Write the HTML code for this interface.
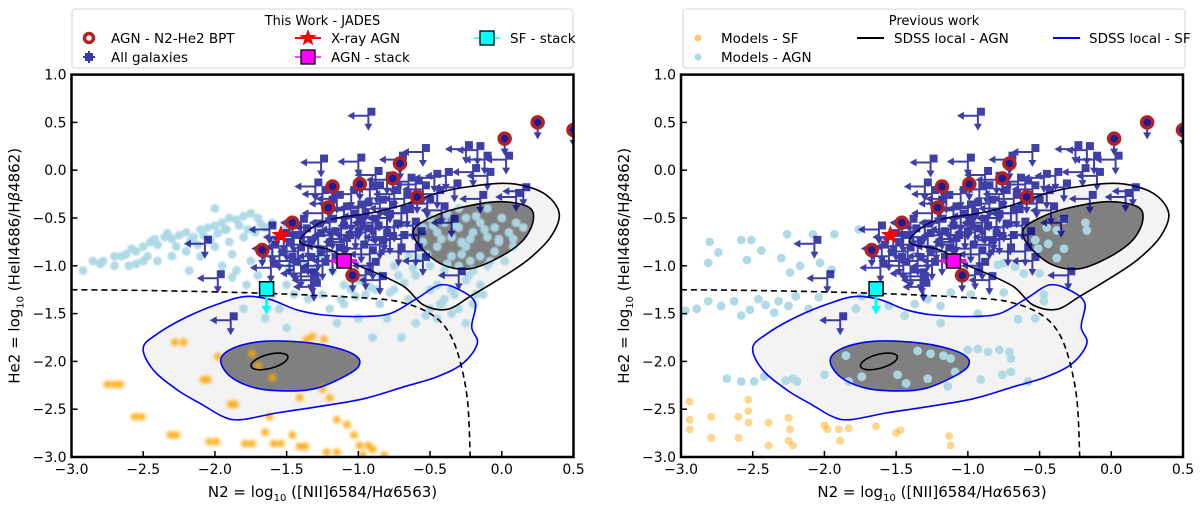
<!DOCTYPE html>
<html><head><meta charset="utf-8">
<style>
html,body{margin:0;padding:0;background:#fff;}
svg{display:block;font-family:"DejaVu Sans","Liberation Sans",sans-serif;}
</style></head>
<body>
<svg id="chart" width="1200" height="506" viewBox="0 0 1200 506" xmlns="http://www.w3.org/2000/svg">
<defs>
<filter id="blur1" x="-50%" y="-50%" width="200%" height="200%"><feGaussianBlur stdDeviation="1.6"/></filter>
<filter id="blur2" x="-50%" y="-50%" width="200%" height="200%"><feGaussianBlur stdDeviation="0.7"/></filter>
</defs>
</svg>
<script>
// ---------- data (N2, He2) ----------
const xTicks = [-3.0,-2.5,-2.0,-1.5,-1.0,-0.5,0.0,0.5];
const yTicks = [1.0,0.5,0.0,-0.5,-1.0,-1.5,-2.0,-2.5,-3.0];

const jadesLimX = [-0.93,-0.55,-0.25,-0.17,-0.12,0.03,-1.26,-1.0,-0.71,-0.39,-0.10,0.10,-0.47,-1.30,-0.88,-0.80,-0.65,-0.60,-0.55,-0.92,-1.05,-1.15,-0.75,-0.68,-0.85,-0.95,-1.10,-1.25,-0.42,-0.15,-0.35,-0.70,-0.80,-0.90,-1.00,-1.05,-1.20,-1.30,-1.38,-1.45,-1.50,-1.42,-1.35,-1.28,-1.18,-1.12,-1.08,-1.02,-0.95,-0.88,-0.82,-0.75,-0.70,-0.62,-0.58,-1.22,-1.15,-1.28,-1.35,-1.45,-1.55,-1.60,-1.40,-1.32,-1.25,-1.18,-0.98,-0.92,-0.85,-0.90,-0.95,-0.72,-0.60,-0.55,-2.07,-1.98,-1.89,-1.61,-1.33,-1.31,-0.30,0.15,-0.85,-0.78,-1.62,-1.48,-1.40,-1.20,-1.00,-0.78,-0.66,-0.52,-0.45,-1.10,-0.97,-1.52,-1.25,-0.87,-0.33,-0.20];
const jadesLimY = [0.57,0.19,0.22,0.21,0.11,0.11,0.08,0.09,0.11,-0.06,-0.06,-0.28,-0.08,-0.17,-0.05,-0.10,-0.12,-0.15,-0.20,-0.20,-0.25,-0.30,-0.25,-0.30,-0.35,-0.38,-0.42,-0.45,-0.42,-0.30,-0.55,-0.45,-0.50,-0.55,-0.58,-0.50,-0.55,-0.60,-0.65,-0.72,-0.80,-0.85,-0.78,-0.70,-0.68,-0.62,-0.72,-0.68,-0.65,-0.62,-0.70,-0.60,-0.72,-0.58,-0.68,-0.80,-0.85,-0.90,-0.95,-1.00,-0.90,-0.82,-1.08,-1.15,-1.00,-0.95,-0.82,-0.88,-0.78,-1.00,-1.10,-0.85,-0.85,-0.95,-0.77,-1.13,-1.57,-1.02,-1.11,-1.22,-1.10,-0.22,-1.15,-0.73,-0.62,-0.95,-0.55,-0.35,-0.40,-0.40,-0.45,-0.35,-0.25,-0.75,-0.48,-0.70,-0.25,-0.20,-0.18,-0.02];

const agnX = [-0.71,-0.76,-0.99,-1.18,-0.59,-1.21,-1.46,-1.67,-1.04,0.02,0.25,0.50];
const agnY = [0.07,-0.085,-0.145,-0.17,-0.28,-0.39,-0.55,-0.835,-1.10,0.33,0.50,0.42];

const xrayAGN = [-1.54,-0.68];
const agnStack = [-1.10,-0.95];
const sfStack = [-1.64,-1.24];

// SDSS local contours
const agnOuterX = [-1.40,-1.29,-1.15,-0.92,-0.68,-0.45,-0.22,0.06,0.29,0.40,0.34,0.18,-0.03,-0.22,-0.38,-0.545,-0.68,-0.87,-1.01,-1.195,-1.38];
const agnOuterY = [-0.71,-0.57,-0.50,-0.45,-0.36,-0.24,-0.17,-0.14,-0.24,-0.45,-0.70,-0.94,-1.15,-1.32,-1.455,-1.41,-1.22,-1.08,-0.99,-0.835,-0.78];
const agnInnerX = [-0.615,-0.50,-0.31,-0.03,0.18,0.22,0.15,-0.01,-0.22,-0.41,-0.57];
const agnInnerY = [-0.625,-0.50,-0.40,-0.33,-0.38,-0.52,-0.73,-0.905,-1.03,-0.99,-0.80];
const sfOuterX = [-2.50,-2.40,-2.19,-1.96,-1.78,-1.61,-1.43,-1.24,-0.99,-0.78,-0.59,-0.43,-0.29,-0.185,-0.21,-0.17,-0.27,-0.45,-0.68,-0.96,-1.265,-1.57,-1.82,-1.94,-2.08,-2.26,-2.43];
const sfOuterY = [-1.86,-1.71,-1.53,-1.39,-1.32,-1.355,-1.46,-1.515,-1.53,-1.50,-1.34,-1.20,-1.255,-1.39,-1.64,-1.81,-2.02,-2.16,-2.265,-2.39,-2.47,-2.54,-2.61,-2.58,-2.46,-2.30,-2.09];
const sfInnerX = [-1.96,-1.87,-1.66,-1.38,-1.15,-1.01,-1.00,-1.10,-1.29,-1.47,-1.71,-1.89];
const sfInnerY = [-1.985,-1.86,-1.79,-1.80,-1.86,-1.95,-2.055,-2.16,-2.28,-2.31,-2.28,-2.16];
const agnCoreCenter = [-1.62,-2.00];

// Kewley-like demarcation
const demX = [-3.0,-2.4,-1.61,-0.92,-0.68,-0.50,-0.38,-0.30,-0.24,-0.22];
const demY = [-1.25,-1.26,-1.29,-1.34,-1.39,-1.50,-1.67,-1.95,-2.40,-3.0];

// Models (left panel)
const mAgnLX = [-2.92,-2.85,-2.78,-2.70,-2.62,-2.55,-2.50,-2.45,-2.40,-2.35,-2.30,-2.25,-2.20,-2.15,-2.10,-2.05,-2.00,-1.95,-1.90,-1.85,-1.80,-1.75,-2.60,-2.50,-2.30,-2.20,-2.10,-2.00,-1.90,-1.80,-2.40,-2.70,-2.55,-1.95,-1.85,-1.75,-1.70,-1.65,-1.60,-1.70,-1.78,-1.60,-1.50,-1.45,-1.35,-1.25,-1.20,-1.10,-1.00,-0.95,-0.85,-0.80,-0.75,-0.65,-0.60,-0.50,-0.45,-0.40,-0.35,-0.30,-0.20,-0.25,-0.15,-1.55,-1.50,-1.15,-0.90,-0.70,-1.80,-1.65,-0.55,-0.50,-0.45,-0.40,-0.35,-0.30,-0.25,-0.20,-0.15,-0.10,-0.05,0.00,0.05,0.10,-0.45,-0.35,-0.25,-0.15,-0.05,-0.50,-0.40,-0.30,-0.20,-0.10,-0.60,-0.45,-0.55,-0.65,-0.75,-0.85,-1.00,-1.10,-0.30,-0.10,0.15,-0.35,-0.25,-0.50,-2.00,-1.72,-1.62,-1.88,-0.02,0.08,-0.18,-0.42,-0.22,-0.28,
 -2.65,-2.58,-2.42,-2.33,-2.27,-2.17,-2.08,-1.98,-1.92,-1.83,-1.77,-1.68,-2.80,-2.47,-2.12,-2.03,-1.58,-1.52,-1.42,-1.38,-1.32,-1.28,-1.18,-1.05,-0.98,-0.88,-0.72,-0.62,-0.52,-0.42,-0.32,-0.22,-0.12,-0.02,0.08,-0.48,-0.38,-0.28,-0.18,-0.08,0.02,-0.58,-0.68,-0.78,-0.92,-1.02,-1.12,-0.33,-0.23,-0.13,-0.43,-0.53,-0.38,-0.28,-1.68,-1.58,-1.48,-1.88,-1.93,-2.18];
const mAgnLY = [-1.05,-0.95,-0.95,-0.90,-0.88,-0.85,-0.80,-0.75,-0.78,-0.70,-0.72,-0.68,-0.65,-0.70,-0.62,-0.60,-0.58,-0.55,-0.50,-0.52,-0.48,-0.45,-1.00,-0.95,-0.90,-0.85,-0.90,-0.80,-0.75,-0.70,-0.95,-1.00,-0.98,-1.00,-1.05,-0.95,-1.10,-0.60,-0.55,-0.50,-1.20,-1.30,-1.20,-1.30,-1.35,-1.30,-1.45,-1.40,-1.55,-1.30,-1.40,-1.55,-1.25,-1.35,-1.60,-1.45,-1.55,-1.35,-1.25,-1.45,-1.40,-1.15,-1.20,-1.45,-1.65,-1.60,-1.75,-1.75,-1.45,-1.55,-0.60,-0.50,-0.65,-0.55,-0.70,-0.60,-0.50,-0.65,-0.55,-0.70,-0.60,-0.50,-0.65,-0.55,-0.80,-0.90,-0.80,-0.90,-0.85,-1.00,-1.05,-1.00,-1.05,-1.00,-1.10,-1.20,-0.75,-0.90,-1.00,-1.10,-1.15,-1.20,-0.40,-0.40,-0.60,-1.50,-1.60,-1.25,-0.40,-0.65,-0.85,-1.12,-0.75,-0.80,-1.30,-1.40,-0.95,-0.75,
 -0.90,-0.82,-0.72,-0.66,-0.80,-0.74,-0.68,-0.66,-0.62,-0.58,-0.62,-0.56,-0.98,-0.90,-0.78,-0.72,-0.72,-0.62,-0.58,-0.98,-1.05,-0.90,-1.05,-1.25,-1.15,-1.25,-1.10,-1.02,-0.88,-0.72,-0.58,-0.72,-0.62,-0.72,-0.72,-0.58,-0.46,-0.76,-0.48,-0.95,-0.95,-0.92,-1.18,-1.28,-1.22,-1.32,-1.35,-1.30,-1.10,-1.30,-1.40,-1.52,-0.98,-0.88,-0.85,-0.75,-1.02,-0.88,-0.62,-1.05];
const mSfLX = [-2.75,-2.70,-2.66,-2.56,-2.51,-2.31,-2.27,-2.28,-2.22,-2.04,-1.99,-1.79,-1.74,-1.59,-1.54,-1.41,-1.37,-1.65,-1.62,-1.89,-1.86,-2.08,-2.05,-1.98,-1.74,-1.60,-1.41,-1.25,-1.20,-1.15,-1.08,-1.46,-1.22,-1.15,-1.03,-0.99,-0.93,-0.97,-0.82,-1.32,-1.24,-1.36,-1.70,-0.90];
const mSfLY = [-2.24,-2.24,-2.24,-2.58,-2.58,-2.77,-2.77,-1.80,-1.80,-2.84,-2.84,-2.86,-2.86,-2.86,-2.86,-2.89,-2.89,-2.74,-2.58,-2.45,-2.45,-2.19,-2.19,-1.95,-1.92,-2.17,-2.38,-2.29,-2.38,-2.61,-2.66,-2.77,-2.95,-2.95,-2.77,-2.88,-2.88,-2.98,-2.98,-1.74,-1.77,-1.77,-2.05,-2.92];

// Models (right panel)
const mAgnRX = [-2.80,-2.58,-2.51,-2.74,-2.81,-2.54,-2.44,-2.30,-2.26,-2.08,-1.93,-1.76,-2.24,-2.17,-2.03,-1.95,-2.97,-2.89,-2.81,-2.72,-2.63,-2.58,-2.52,-2.46,-2.41,-2.35,-2.32,-2.25,-2.20,-2.11,-2.04,-1.78,-1.74,-1.55,-1.44,-1.37,-1.28,-1.19,-1.12,-0.98,-0.93,-1.19,-0.79,-0.75,-0.67,-0.61,-0.50,-0.75,-0.47,-0.47,-0.65,-0.53,-0.53,-0.44,-0.45,-0.38,-0.33,-0.51,-0.33,-0.38,-0.18,-0.17,-2.68,-2.58,-2.49,-2.42,-2.27,-2.22,-2.19,-2.00,-1.83,-1.85,-1.74,-1.49,-1.43,-1.28,-1.35,-1.26,-1.17,-1.12,-1.09,-1.14,-0.93,-0.86,-0.78,-0.71,-0.70,-0.76,-0.70,-0.91,-0.58,-1.00];
const mAgnRY = [-0.75,-0.73,-0.73,-0.86,-0.97,-0.94,-0.84,-0.92,-0.67,-0.67,-0.67,-0.62,-1.07,-1.00,-0.97,-1.04,-1.47,-1.45,-1.37,-1.42,-1.37,-1.52,-1.46,-1.35,-1.41,-1.49,-1.37,-1.42,-1.32,-1.45,-1.33,-1.45,-1.32,-1.42,-1.52,-1.40,-1.35,-1.42,-1.28,-1.30,-1.50,-1.60,-0.99,-0.97,-1.01,-1.08,-1.08,-1.28,-1.30,-1.37,-1.56,-1.55,-0.73,-0.77,-0.60,-0.63,-0.52,-0.82,-0.82,-0.92,-0.55,-0.63,-2.18,-2.21,-2.21,-2.16,-2.20,-2.18,-2.21,-2.14,-2.21,-1.94,-2.16,-2.14,-2.23,-2.18,-1.89,-1.92,-1.94,-1.97,-2.11,-2.26,-1.87,-1.90,-1.88,-1.90,-1.97,-2.14,-2.11,-2.19,-2.21,-1.88];
const mSfRX = [-2.94,-2.94,-2.79,-2.79,-2.60,-2.53,-2.53,-2.53,-2.60,-2.39,-2.39,-2.25,-2.24,-2.25,-2.22,-2.00,-1.98,-1.90,-1.89,-1.83,-1.64,-1.50,-1.47,-1.13,-1.12,-2.94];
const mSfRY = [-2.42,-2.61,-2.58,-2.80,-2.58,-2.40,-2.52,-2.64,-2.80,-2.64,-2.88,-2.59,-2.71,-2.83,-2.88,-2.67,-2.71,-2.71,-2.83,-2.70,-2.68,-2.75,-2.72,-2.78,-2.88,-2.71];

// ---------- rendering ----------
const NS = "http://www.w3.org/2000/svg";
const svg = document.getElementById('chart');
const Y0 = 74.6, Y1 = 457;
function mk(tag, attrs, parent){
  const e = document.createElementNS(NS, tag);
  for (const k in attrs) e.setAttribute(k, attrs[k]);
  (parent||svg).appendChild(e);
  return e;
}
const yScale = v => Y0 + (1 - v) * (Y1 - Y0) / 4;
function fmt(v){ const s = Math.abs(v).toFixed(1); return (v < 0 ? "\u2212" : "") + s; }

function polyPath(xs, ys, sx){
  let d = "";
  const n = xs.length;
  const P = xs.map((x,i)=>[sx(x), yScale(ys[i])]);
  for (let i=0;i<n;i++){
    const p0=P[(i-1+n)%n], p1=P[i], p2=P[(i+1)%n], p3=P[(i+2)%n];
    if (i===0) d += "M"+p1[0].toFixed(1)+","+p1[1].toFixed(1);
    const c1=[p1[0]+(p2[0]-p0[0])/6, p1[1]+(p2[1]-p0[1])/6];
    const c2=[p2[0]-(p3[0]-p1[0])/6, p2[1]-(p3[1]-p1[1])/6];
    d += "C"+c1[0].toFixed(1)+","+c1[1].toFixed(1)+" "+c2[0].toFixed(1)+","+c2[1].toFixed(1)+" "+p2[0].toFixed(1)+","+p2[1].toFixed(1);
  }
  return d+"Z";
}
function openPath(xs, ys, sx){
  const P = xs.map((x,i)=>[sx(x), yScale(ys[i])]);
  let d = "M"+P[0][0].toFixed(1)+","+P[0][1].toFixed(1);
  for (let i=0;i<P.length-1;i++){
    const p0=P[Math.max(i-1,0)], p1=P[i], p2=P[i+1], p3=P[Math.min(i+2,P.length-1)];
    const c1=[p1[0]+(p2[0]-p0[0])/6, p1[1]+(p2[1]-p0[1])/6];
    const c2=[p2[0]-(p3[0]-p1[0])/6, p2[1]-(p3[1]-p1[1])/6];
    d += "C"+c1[0].toFixed(1)+","+c1[1].toFixed(1)+" "+c2[0].toFixed(1)+","+c2[1].toFixed(1)+" "+p2[0].toFixed(1)+","+p2[1].toFixed(1);
  }
  return d;
}
function limitMarker(g, px, py, color){
  mk('line',{x1:px,y1:py,x2:px-16,y2:py,stroke:color,'stroke-width':2},g);
  mk('path',{d:`M${px-21},${py} L${px-14},${py-4} L${px-14},${py+4}Z`,fill:color},g);
  mk('line',{x1:px,y1:py,x2:px,y2:py+10,stroke:color,'stroke-width':2},g);
  mk('path',{d:`M${px},${py+15} L${px-4},${py+8} L${px+4},${py+8}Z`,fill:color},g);
  mk('rect',{x:px-1,y:py-8,width:8,height:8,fill:color},g);
}
function star(cx, cy, R, r){
  let d="";
  for(let i=0;i<10;i++){
    const a = -Math.PI/2 + i*Math.PI/5;
    const rr = i%2===0?R:r;
    d += (i?"L":"M")+(cx+rr*Math.cos(a)).toFixed(1)+","+(cy+rr*Math.sin(a)).toFixed(1);
  }
  return d+"Z";
}

function drawPanel(x0, side, agnMX, agnMY, sfMX, sfMY, blurred){
  const x1 = x0 + 502;
  const sx = v => x0 + (v + 3) * (x1 - x0) / 3.5;
  const clipId = 'clip-'+side;
  const cp = mk('clipPath',{id:clipId});
  mk('rect',{x:x0,y:Y0,width:x1-x0,height:Y1-Y0},cp);
  const plot = mk('g',{'clip-path':`url(#${clipId})`});
  
  

  const c1 = mk('path',{d:polyPath(agnOuterX,agnOuterY,sx),fill:'#f3f3f3',stroke:'none'},plot);
  
  
  const c2 = mk('path',{d:polyPath(sfOuterX,sfOuterY,sx),fill:'#f3f3f3',stroke:'none'},plot);
  
  
  const c3 = mk('path',{d:polyPath(agnInnerX,agnInnerY,sx),fill:'#808080',stroke:'none'},plot);
  
  
  const c4 = mk('path',{d:polyPath(sfInnerX,sfInnerY,sx),fill:'#808080',stroke:'none'},plot);
  
  

  // models
  const sg = mk('g', blurred?{filter:'url(#blur1)'}:{}, plot);
  
  
  sfMX.forEach((x,i)=>{
    const c = mk('circle',{cx:sx(x),cy:yScale(sfMY[i]),r:4,fill:'#ffa500','fill-opacity':blurred?0.8:0.45},sg);
    
    
  });
  const mg = mk('g', blurred?{filter:'url(#blur2)'}:{}, plot);
  
  
  agnMX.forEach((x,i)=>{
    const c = mk('circle',{cx:sx(x),cy:yScale(agnMY[i]),r:4.4,fill:'#add8e6','fill-opacity':0.95},mg);
    
    
  });

  const l1 = mk('path',{d:polyPath(agnOuterX,agnOuterY,sx),fill:'none',stroke:'#000','stroke-width':1.6},plot);
  
  
  const l2 = mk('path',{d:polyPath(agnInnerX,agnInnerY,sx),fill:'none',stroke:'#000','stroke-width':1.6},plot);
  
  
  const l3 = mk('path',{d:polyPath(sfOuterX,sfOuterY,sx),fill:'none',stroke:'#0000ff','stroke-width':1.6},plot);
  
  
  const l4 = mk('path',{d:polyPath(sfInnerX,sfInnerY,sx),fill:'none',stroke:'#0000ff','stroke-width':1.6},plot);
  
  
  const cx0 = sx(agnCoreCenter[0]), cy0 = yScale(agnCoreCenter[1]);
  const el = mk('ellipse',{cx:cx0,cy:cy0,rx:19,ry:7,fill:'none',stroke:'#000','stroke-width':1.6,transform:`rotate(-15 ${cx0} ${cy0})`},plot);
  
  

  const dm = mk('path',{d:openPath(demX,demY,sx),fill:'none',stroke:'#000','stroke-width':1.6,'stroke-dasharray':'6,4'},plot);
  
  

  const jg = mk('g',{opacity:0.75},plot);
  
  
  jadesLimX.forEach((x,i)=>{
    const g = mk('g',{},jg);
    
    
    limitMarker(g, sx(x), yScale(jadesLimY[i]), '#00008b');
  });
  agnX.forEach((x,i)=>{
    const px=sx(x), py=yScale(agnY[i]);
    const g = mk('g',{},plot);
    
    
    mk('line',{x1:px,y1:py,x2:px,y2:py+12,stroke:'#3a3aa8','stroke-width':2},g);
    mk('path',{d:`M${px},${py+17} L${px-4},${py+10} L${px+4},${py+10}Z`,fill:'#3a3aa8'},g);
    mk('circle',{cx:px,cy:py,r:5.5,fill:'#1a1a9a',stroke:'#b22222','stroke-width':3.5},g);
  });
  {
    const px=sx(sfStack[0]), py=yScale(sfStack[1]);
    const g = mk('g',{},plot);
    
    
    mk('line',{x1:px,y1:py,x2:px,y2:py+18,stroke:'#00ffff','stroke-width':3},g);
    mk('path',{d:`M${px},${py+26} L${px-5},${py+17} L${px+5},${py+17}Z`,fill:'#00ffff'},g);
    mk('rect',{x:px-7,y:py-7,width:14,height:14,fill:'#00ffff',stroke:'#000','stroke-width':1.5},g);
  }
  {
    const px=sx(agnStack[0]), py=yScale(agnStack[1]);
    const g = mk('g',{},plot);
    
    
    mk('line',{x1:px-13,y1:py,x2:px+13,y2:py,stroke:'#ff00ff','stroke-width':4},g);
    mk('rect',{x:px-7,y:py-7,width:14,height:14,fill:'#ff00ff',stroke:'#000','stroke-width':1.5},g);
  }
  {
    const s = mk('path',{d:star(sx(xrayAGN[0]),yScale(xrayAGN[1]),10,4.2),fill:'#ff0000'},plot);
    
    
  }

  const fr = mk('rect',{x:x0,y:Y0,width:x1-x0,height:Y1-Y0,fill:'none',stroke:'#000','stroke-width':2.5});
  
  
  const xa = mk('g',{});
  
  
  xTicks.forEach(v=>{
    const px = sx(v);
    mk('line',{x1:px,y1:Y1,x2:px,y2:Y1-6,stroke:'#000','stroke-width':1.5},xa);
    const t = mk('text',{x:px,y:Y1+17,'text-anchor':'middle','font-size':14,fill:'#000'},xa);
    t.textContent = fmt(v);
    
    
  });
  const ya = mk('g',{});
  
  
  yTicks.forEach(v=>{
    const py = yScale(v);
    mk('line',{x1:x0,y1:py,x2:x0+6,y2:py,stroke:'#000','stroke-width':1.5},ya);
    const t = mk('text',{x:x0-5,y:py+5,'text-anchor':'end','font-size':14,fill:'#000'},ya);
    t.textContent = fmt(v);
    
    
  });
  const xt = mk('text',{x:(x0+x1)/2,y:497,'text-anchor':'middle','font-size':15,fill:'#000'});
  
  
  xt.innerHTML = 'N2 = log<tspan font-size="10" dy="4">10</tspan><tspan dy="-4"> ([NII]6584/H</tspan><tspan font-style="italic">α</tspan><tspan>6563)</tspan>';
  const yx = x0 - 52, yy = (Y0+Y1)/2;
  const yt = mk('text',{x:yx,y:yy,'text-anchor':'middle','font-size':15,fill:'#000',transform:`rotate(-90 ${yx} ${yy})`});
  
  
  yt.innerHTML = 'He2 = log<tspan font-size="10" dy="4">10</tspan><tspan dy="-4"> (HeII4686/H</tspan><tspan font-style="italic">β</tspan><tspan>4862)</tspan>';
}

drawPanel(71.5, 'left', mAgnLX, mAgnLY, mSfLX, mSfLY, true);
drawPanel(681, 'right', mAgnRX, mAgnRY, mSfRX, mSfRY, false);

// ---------- legends ----------
function legendBox(x, w, title, name){
  const g = mk('g',{});
  
  
  mk('rect',{x:x,y:9,width:w,height:59,rx:3,fill:'#fff',stroke:'#d6d6d6','stroke-width':1},g);
  const t = mk('text',{x:x+w/2,y:25,'text-anchor':'middle','font-size':13,fill:'#000'},g);
  t.textContent = title;
  return g;
}
function legText(g, x, y, s){
  const t = mk('text',{x:x,y:y+5,'font-size':13.5,fill:'#000'},g);
  t.textContent = s;
  return t;
}
const L = legendBox(72, 501, 'This Work - JADES', 'legend-this-work');
{
  const e1 = mk('g',{},L);  
  mk('circle',{cx:89,cy:38,r:4.5,fill:'#fff',stroke:'#b22222','stroke-width':3.5},e1);
  legText(e1,111,38,'AGN - N2-He2 BPT');
  const e2 = mk('g',{},L);  
  mk('line',{x1:83,y1:57,x2:95,y2:57,stroke:'#3a3aa8','stroke-width':2},e2);
  mk('line',{x1:89,y1:51,x2:89,y2:63,stroke:'#3a3aa8','stroke-width':2},e2);
  mk('rect',{x:85,y:53,width:8,height:8,fill:'#3a3aa8'},e2);
  legText(e2,111,57,'All galaxies');
  const e3 = mk('g',{},L);  
  mk('line',{x1:295,y1:38,x2:321,y2:38,stroke:'#ff0000','stroke-width':2},e3);
  mk('path',{d:star(308,38,9,3.8),fill:'#ff0000'},e3);
  legText(e3,331,38,'X-ray AGN');
  const e4 = mk('g',{},L);  
  mk('line',{x1:295,y1:57,x2:321,y2:57,stroke:'#ff00ff','stroke-width':1.5},e4);
  mk('rect',{x:301,y:50,width:14,height:14,fill:'#ff00ff',stroke:'#000','stroke-width':1.3},e4);
  legText(e4,331,57,'AGN - stack');
  const e5 = mk('g',{},L);  
  mk('line',{x1:474,y1:38,x2:500,y2:38,stroke:'#00ffff','stroke-width':1.5},e5);
  mk('rect',{x:480,y:31,width:14,height:14,fill:'#00ffff',stroke:'#000','stroke-width':1.3},e5);
  legText(e5,510,38,'SF - stack');
}
const R = legendBox(683, 502, 'Previous work', 'legend-previous-work');
{
  const e1 = mk('g',{},R);  
  mk('circle',{cx:698,cy:38,r:3.5,fill:'#ffa500','fill-opacity':0.6},e1);
  legText(e1,721,38,'Models - SF');
  const e2 = mk('g',{},R);  
  mk('circle',{cx:698,cy:57,r:3.5,fill:'#add8e6'},e2);
  legText(e2,721,57,'Models - AGN');
  const e3 = mk('g',{},R);  
  mk('line',{x1:857,y1:38,x2:884,y2:38,stroke:'#000','stroke-width':2},e3);
  legText(e3,894,38,'SDSS local - AGN');
  const e4 = mk('g',{},R);  
  mk('line',{x1:1053,y1:38,x2:1080,y2:38,stroke:'#0000ff','stroke-width':2},e4);
  legText(e4,1089,38,'SDSS local - SF');
}
</script>
</body></html>
